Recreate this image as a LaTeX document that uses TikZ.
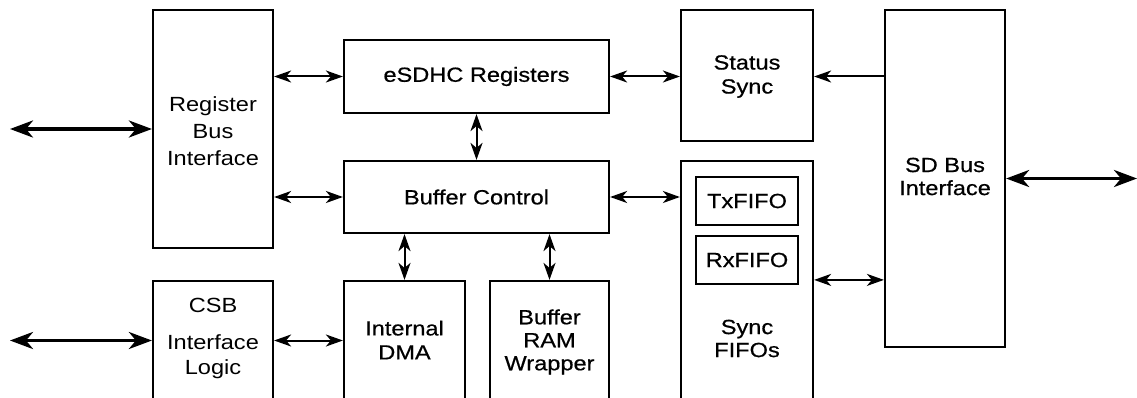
\documentclass[tikz,border=0pt]{standalone}
\usepackage{fontspec}
\setmainfont{Liberation Sans}[FakeStretch=1.15]
\newfontfamily\heavyfont{Liberation Sans}[FakeStretch=1.15,FakeBold=0.6]
\usetikzlibrary{arrows.meta,fit}
\begin{document}
\begin{tikzpicture}[x=1pt,y=-1pt,
  box/.style={draw,line width=2.2pt,inner sep=0pt},
  lbl/.style={align=center,inner sep=0pt,font=\fontsize{20.5}{#1}\selectfont},
  lbl/.default=23,
  hlbl/.style={align=center,inner sep=0pt,font=\heavyfont\fontsize{20.5}{#1}\selectfont},
  hlbl/.default=23,
  thin/.style={line width=2pt,{Stealth[length=17pt,width=12pt,inset=5pt]}-{Stealth[length=17pt,width=12pt,inset=5pt]}},
  thinone/.style={line width=2pt,-{Stealth[length=17pt,width=12pt,inset=5pt]}},
  thick/.style={line width=3.5pt,{Stealth[length=23pt,width=17pt,inset=7pt]}-{Stealth[length=23pt,width=17pt,inset=7pt]}}]
\clip (0,0) rectangle (1137,398);
\fill[white] (0,0) rectangle (1137,398);
% boxes
\node[box,fit={(153,10) (273,248)}] (reg) {};
\node[box,fit={(344,40) (609,113)}] (esdhc) {};
\node[box,fit={(344,161) (609,233)}] (buf) {};
\node[box,fit={(681,10) (813,141)}] (status) {};
\node[box,fit={(681,161) (813,410)}] (fifo) {};
\node[box,fit={(696,177) (798,225)}] (tx) {};
\node[box,fit={(696,236) (798,284)}] (rx) {};
\node[box,fit={(885,10) (1005,347)}] (sd) {};
\node[box,fit={(153,281) (273,400)}] (csb) {};
\node[box,fit={(344,281) (465,400)}] (dma) {};
\node[box,fit={(490,281) (609,400)}] (ram) {};
% labels
\node[lbl=27] (treg) at (213,131) {Register\\Bus\\Interface};
\node[hlbl] (tesdhc) at (esdhc.center) {eSDHC Registers};
\node[hlbl] (tbuf) at (buf.center) {Buffer Control};
\node[hlbl=24] (tstatus) at (747,76.5) {Status\\Sync};
\node[hlbl] (ttx) at (tx.center) {TxFIFO};
\node[hlbl] (trx) at (rx.center) {RxFIFO};
\node[hlbl] (tfifo) at (747,338.5) {Sync\\FIFOs};
\node[hlbl] (tsd) at (945,176.5) {SD Bus\\Interface};
\node[lbl=25] (tcsb) at (213,338) {CSB\\[12pt]Interface\\Logic};
\node[hlbl=24] (tdma) at (404.5,340) {Internal\\DMA};
\node[hlbl] (tram) at (549.5,342) {Buffer\\RAM\\Wrapper};
% external ends
\coordinate (L1) at (10,129);
\coordinate (L2) at (10,340.5);
\coordinate (R1) at (1137,178.5);
% connectors
\draw[thick] (L1) -- (reg.west |- L1);
\draw[thick] (L2) -- (csb.west |- L2);
\draw[thick] (sd.east |- R1) -- (R1);
\draw[thin] (reg.east |- esdhc.west) -- (esdhc.west);
\draw[thin] (reg.east |- buf.west) -- (buf.west);
\draw[thin] (esdhc.south) -- (buf.north);
\draw[thin] (esdhc.east) -- (esdhc.east -| status.west);
\draw[thin] (buf.east) -- (buf.east -| fifo.west);
\draw[thinone] (esdhc.east -| sd.west) -- (esdhc.east -| status.east);
\draw[thin] (fifo.east |- csb.north) -- (sd.west |- csb.north);
\draw[thin] (buf.south -| dma.north) -- (dma.north);
\draw[thin] (buf.south -| ram.north) -- (ram.north);
\draw[thin] (csb.east |- L2) -- (dma.west |- L2);
\end{tikzpicture}
\end{document}
